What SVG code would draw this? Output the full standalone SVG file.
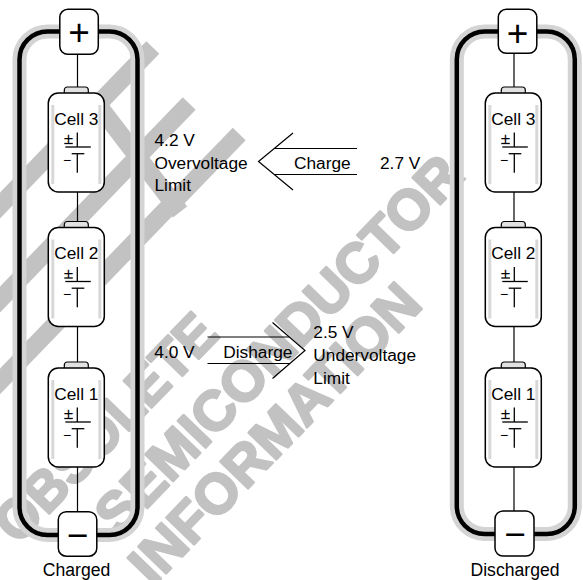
<svg xmlns="http://www.w3.org/2000/svg" xmlns:xlink="http://www.w3.org/1999/xlink" width="583" height="580" viewBox="0 0 583 580">
<style>
  text { font-family: "Liberation Sans", Arial, Helvetica, sans-serif; fill: #000; }
  .wm { font-weight: bold; font-size: 56px; fill: #c2c2c2; stroke: #c2c2c2; stroke-width: 2.5; stroke-linejoin: round; }
  .band { stroke: #c2c2c2; stroke-width: 18; fill: none; }
  .halo { fill: none; stroke: #d4d4d4; stroke-width: 14; }
  .loop { fill: none; stroke: #000; stroke-width: 4.5; }
  .lead { stroke: #000; stroke-width: 1.2; fill: none; }
  .term { fill: #fff; stroke: #000; stroke-width: 1.5; }
  .termtxt { font-size: 37px; text-anchor: middle; }
  .cap { fill: #e2e2e2; stroke: #000; stroke-width: 1.2; }
  .body { fill: #fff; stroke: #000; stroke-width: 1.5; }
  .stripe { stroke: #d8d8d8; stroke-width: 3; }
  .sym { stroke: #000; stroke-width: 1.3; fill: none; }
  .cell { font-size: 17.3px; text-anchor: middle; }
  .pl { font-size: 17px; text-anchor: middle; }
  .mi { font-size: 14px; text-anchor: middle; }
  .lbl { font-size: 17.3px; }
  .cap2 { font-size: 17.6px; text-anchor: middle; }
  .arr { stroke: #000; stroke-width: 1.2; fill: none; }
</style>
<defs>
  <g id="cellShape">
    <rect class="cap" x="16" y="-6" width="24" height="9" rx="3"/>
    <rect class="body" x="0" y="0" width="56" height="99" rx="10"/>
    <line class="stripe" x1="4.5" y1="12" x2="4.5" y2="91"/>
    <line class="stripe" x1="51.5" y1="12" x2="51.5" y2="91"/>
    <line class="sym" x1="29" y1="39.5" x2="29" y2="54"/>
    <line class="sym" x1="17" y1="54" x2="42.5" y2="54"/>
    <line class="sym" x1="16" y1="50.5" x2="24.5" y2="50.5"/>
    <line class="sym" x1="23.4" y1="60.7" x2="36" y2="60.7"/>
    <line class="sym" x1="29" y1="60.7" x2="29" y2="79.7"/>
  </g>
</defs>

<!-- watermark -->
<g id="watermark">
  <line class="band" x1="152.8" y1="47.6" x2="-43" y2="250"/>
  <line class="band" x1="189.2" y1="103.6" x2="-31" y2="331.6"/>
  <line class="band" x1="98" y1="105" x2="180" y2="212"/>
  <line class="band" x1="239.2" y1="133.9" x2="-18" y2="400"/>
  <text class="wm" transform="translate(18,546) rotate(-46)" textLength="292" lengthAdjust="spacingAndGlyphs">OBSOLETE</text>
  <text class="wm" transform="translate(118.7,537.6) rotate(-46)">SEMICONDUCTOR</text>
  <text class="wm" transform="translate(152.7,587.3) rotate(-46)">INFORMATION</text>
</g>

<!-- left pack (charged) -->
<g id="pack-charged">
  <rect class="halo" x="19.5" y="31.5" width="118" height="503.5" rx="28"/>
  <rect class="loop" x="19.5" y="31.5" width="118" height="503.5" rx="28"/>
</g>
<!-- right pack (discharged) -->
<g id="pack-discharged">
  <rect class="halo" x="456.8" y="31.5" width="118" height="502.5" rx="28"/>
  <rect class="loop" x="456.8" y="31.5" width="118" height="502.5" rx="28"/>
</g>

<g id="connectors">
  <line class="lead" x1="77.5" y1="54" x2="77.5" y2="512"/>
  <line class="lead" x1="514" y1="53" x2="514" y2="511"/>
  <g id="charge-arrow">
    <polyline class="arr" points="293,133 258.5,161.5 293,190"/>
    <line class="arr" x1="274.2" y1="148.5" x2="357" y2="148.5"/>
    <line class="arr" x1="274.2" y1="174.5" x2="357" y2="174.5"/>
  </g>
  <g id="discharge-arrow">
    <polyline class="arr" points="272.5,322.5 305,350.5 272.5,378.5"/>
    <line class="arr" x1="207.5" y1="337" x2="289.3" y2="337"/>
    <line class="arr" x1="207.5" y1="363.5" x2="289.9" y2="363.5"/>
  </g>
</g>

<!-- left terminals -->
<g id="left-plus">
  <rect class="term" x="59.8" y="9.3" width="38.5" height="45" rx="8"/>
  <text class="termtxt" x="79" y="45.3">+</text>
</g>
<g id="left-minus">
  <rect class="term" x="58.3" y="511.7" width="38.5" height="44.5" rx="8"/>
  <text class="termtxt" x="77.5" y="548">−</text>
</g>
<!-- right terminals -->
<g id="right-plus">
  <rect class="term" x="498.3" y="9.3" width="38.5" height="44" rx="8"/>
  <text class="termtxt" x="517.5" y="45.5">+</text>
</g>
<g id="right-minus">
  <rect class="term" x="495" y="511" width="39" height="45" rx="8"/>
  <text class="termtxt" x="515" y="547">−</text>
</g>

<!-- left cells -->
<g id="left-cell3">
  <use xlink:href="#cellShape" href="#cellShape" transform="translate(48.3,93)"/>
  <text class="cell" x="76.3" y="124.5">Cell 3</text>
  <text class="pl" x="68.5" y="144.3">+</text>
  <text class="mi" x="67" y="164.6">−</text>
</g>
<g id="left-cell2">
  <use xlink:href="#cellShape" href="#cellShape" transform="translate(48.3,227.5)"/>
  <text class="cell" x="76.3" y="259">Cell 2</text>
  <text class="pl" x="68.5" y="278.8">+</text>
  <text class="mi" x="67" y="299.1">−</text>
</g>
<g id="left-cell1">
  <use xlink:href="#cellShape" href="#cellShape" transform="translate(48.3,368)"/>
  <text class="cell" x="76.3" y="399.5">Cell 1</text>
  <text class="pl" x="68.5" y="419.3">+</text>
  <text class="mi" x="67" y="439.6">−</text>
</g>

<!-- right cells -->
<g id="right-cell3">
  <use xlink:href="#cellShape" href="#cellShape" transform="translate(485.3,93)"/>
  <text class="cell" x="513.3" y="124.5">Cell 3</text>
  <text class="pl" x="505.5" y="144.3">+</text>
  <text class="mi" x="504" y="164.6">−</text>
</g>
<g id="right-cell2">
  <use xlink:href="#cellShape" href="#cellShape" transform="translate(485.3,227.5)"/>
  <text class="cell" x="513.3" y="259">Cell 2</text>
  <text class="pl" x="505.5" y="278.8">+</text>
  <text class="mi" x="504" y="299.1">−</text>
</g>
<g id="right-cell1">
  <use xlink:href="#cellShape" href="#cellShape" transform="translate(485.3,368)"/>
  <text class="cell" x="513.3" y="399.5">Cell 1</text>
  <text class="pl" x="505.5" y="419.3">+</text>
  <text class="mi" x="504" y="439.6">−</text>
</g>

<!-- labels -->
<g id="overvoltage-label">
  <text class="lbl" x="154.5" y="146">4.2 V</text>
  <text class="lbl" x="154.5" y="168.5">Overvoltage</text>
  <text class="lbl" x="154.5" y="191">Limit</text>
</g>
<g id="charge-label">
  <text class="lbl" x="294" y="169.3">Charge</text>
  <text class="lbl" x="380" y="169.3">2.7 V</text>
</g>
<g id="discharge-label">
  <text class="lbl" x="154.3" y="358">4.0 V</text>
  <text class="lbl" x="223.3" y="358">Disharge</text>
</g>
<g id="undervoltage-label">
  <text class="lbl" x="313.3" y="338.3">2.5 V</text>
  <text class="lbl" x="313.3" y="361">Undervoltage</text>
  <text class="lbl" x="313.3" y="384">Limit</text>
</g>
<g id="state-labels">
  <text class="cap2" x="76.5" y="576">Charged</text>
  <text class="cap2" x="515" y="575.5">Discharged</text>
</g>
</svg>
